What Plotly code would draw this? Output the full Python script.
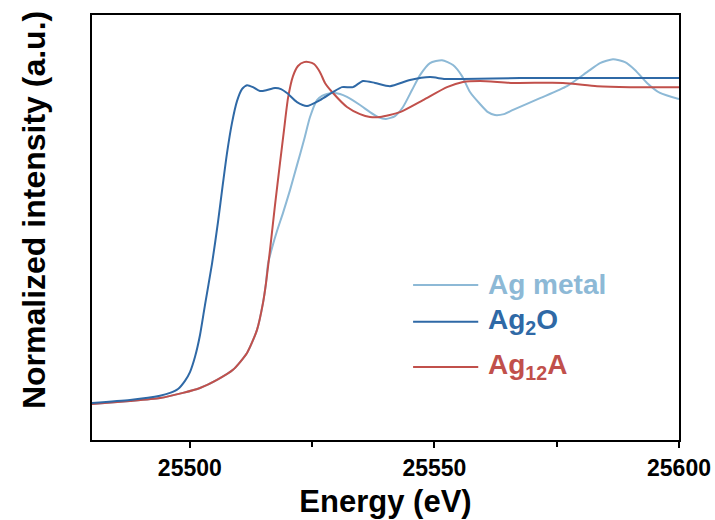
import plotly.graph_objects as go

# ---- data ----
ag2o_e = [25480.00, 25487.77, 25493.90, 25495.95, 25497.58, 25499.01, 25500.03, 25501.06,
          25502.08, 25503.10, 25504.53, 25505.76, 25506.78, 25507.60, 25508.62, 25509.64,
          25510.66, 25511.69, 25512.91, 25514.34, 25515.78, 25517.41, 25518.64, 25519.86,
          25521.91, 25523.95, 25526.61, 25529.27, 25531.11, 25533.36, 25535.40, 25537.85,
          25540.92, 25545.01, 25549.10, 25552.16, 25555.84, 25567.50, 25583.85, 25600.00]
ag2o_i = [0.000, 0.009, 0.022, 0.031, 0.043, 0.068, 0.095, 0.142,
          0.209, 0.302, 0.428, 0.557, 0.677, 0.769, 0.862, 0.929,
          0.966, 0.978, 0.972, 0.960, 0.963, 0.969, 0.966, 0.954,
          0.926, 0.914, 0.932, 0.957, 0.972, 0.972, 0.991, 0.985,
          0.975, 0.994, 1.003, 0.997, 0.997, 1.000, 1.000, 1.000]

ag12a_e = [25480.00, 25487.77, 25493.90, 25498.60, 25502.08, 25505.55, 25508.82, 25511.69,
           25513.73, 25514.96, 25515.57, 25516.39, 25517.41, 25518.43, 25519.25, 25520.07,
           25521.09, 25522.11, 25523.34, 25524.36, 25525.38, 25526.61, 25527.63, 25529.27,
           25532.13, 25534.79, 25536.83, 25538.88, 25542.96, 25547.67, 25552.57, 25555.84,
           25559.32, 25566.07, 25576.29, 25583.24, 25589.98, 25600.00]
ag12a_i = [-0.003, 0.006, 0.015, 0.031, 0.046, 0.071, 0.102, 0.154,
           0.225, 0.308, 0.369, 0.471, 0.609, 0.738, 0.840, 0.938,
           1.006, 1.037, 1.049, 1.049, 1.043, 1.018, 0.985, 0.954,
           0.911, 0.889, 0.880, 0.880, 0.895, 0.932, 0.972, 0.988,
           0.991, 0.985, 0.985, 0.975, 0.972, 0.972]

agm_e = [25480.00, 25487.77, 25493.90, 25498.60, 25502.08, 25505.55, 25508.82, 25511.69,
         25513.73, 25514.96, 25515.57, 25515.98, 25516.80, 25517.82, 25519.05, 25520.48,
         25521.91, 25523.34, 25524.57, 25526.00, 25527.02, 25528.04, 25529.27, 25530.70,
         25532.13, 25534.79, 25536.83, 25538.47, 25540.10, 25541.94, 25543.58, 25545.42,
         25547.05, 25549.10, 25551.55, 25553.80, 25555.64, 25557.27, 25559.32, 25560.95,
         25562.38, 25564.22, 25566.07, 25571.59, 25577.10, 25581.19, 25583.85, 25586.51,
         25588.96, 25591.00, 25593.46, 25596.12, 25600.00]
agm_i = [-0.003, 0.006, 0.015, 0.031, 0.046, 0.071, 0.102, 0.154,
         0.225, 0.308, 0.369, 0.428, 0.477, 0.529, 0.585, 0.655,
         0.732, 0.809, 0.880, 0.932, 0.945, 0.951, 0.954, 0.951,
         0.942, 0.917, 0.895, 0.880, 0.874, 0.883, 0.911, 0.963,
         1.009, 1.046, 1.055, 1.040, 1.006, 0.957, 0.920, 0.895,
         0.886, 0.889, 0.902, 0.938, 0.975, 1.018, 1.046, 1.058,
         1.049, 1.025, 0.985, 0.954, 0.935]

series_names = ["Ag metal", "Ag<sub>2</sub>O", "Ag<sub>12</sub>A"]
colors = ["#8db9d6", "#2f69a6", "#c1504b"]
x_ticks = [25500, 25550, 25600]

FONT = "Liberation Sans, Arial, sans-serif"

fig = go.Figure()
for e, i, c, n in [(agm_e, agm_i, colors[0], series_names[0]),
                   (ag12a_e, ag12a_i, colors[2], series_names[2]),
                   (ag2o_e, ag2o_i, colors[1], series_names[1])]:
    fig.add_trace(go.Scatter(x=e, y=i, mode="lines", name=n,
                             line=dict(color=c, width=2, shape="spline", smoothing=0.6),
                             showlegend=False))

# manual legend (longer line samples than Plotly's default legend)
leg_y = [0.365, 0.278, 0.172]
for n, c, y in zip(series_names, colors, leg_y):
    fig.add_shape(type="line", xref="paper", yref="paper", x0=0.547, x1=0.658, y0=y, y1=y,
                  line=dict(color=c, width=2))
    fig.add_annotation(xref="paper", yref="paper", x=0.671, y=y, xanchor="left", yanchor="middle",
                       text=f"<b>{n}</b>", showarrow=False,
                       font=dict(family=FONT, size=28, color=c))

# y-axis title (sits slightly above the plot centre in the reference)
fig.add_annotation(xref="paper", yref="paper", x=-0.0988, y=0.541, xanchor="center", yanchor="middle",
                   text="<b>Normalized intensity (a.u.)</b>", textangle=-90, showarrow=False,
                   font=dict(family=FONT, size=32, color="black"))

fig.update_layout(
    width=715, height=520,
    margin=dict(l=92, r=36, t=15, b=80),
    paper_bgcolor="white", plot_bgcolor="white",
    font=dict(family=FONT, color="black"),
)
fig.update_xaxes(
    range=[25480, 25600], tickvals=x_ticks, ticktext=[str(v) for v in x_ticks],
    automargin=False,
    showgrid=False, zeroline=False,
    showline=True, linecolor="black", linewidth=2, mirror=True,
    ticks="outside", ticklen=6, tickwidth=2, tickcolor="black",
    minor=dict(tickvals=[25525, 25575], ticks="outside", ticklen=5, tickwidth=2, tickcolor="black"),
    tickfont=dict(family=FONT, size=23, color="black", weight="bold"),
    title=dict(text="<b>Energy (eV)</b>", font=dict(family=FONT, size=31, color="black"), standoff=11),
)
fig.update_yaxes(
    range=[-0.114, 1.194], showticklabels=False, ticks="",
    automargin=False,
    showgrid=False, zeroline=False,
    showline=True, linecolor="black", linewidth=2, mirror=True,
)

fig.write_html("out.html")
